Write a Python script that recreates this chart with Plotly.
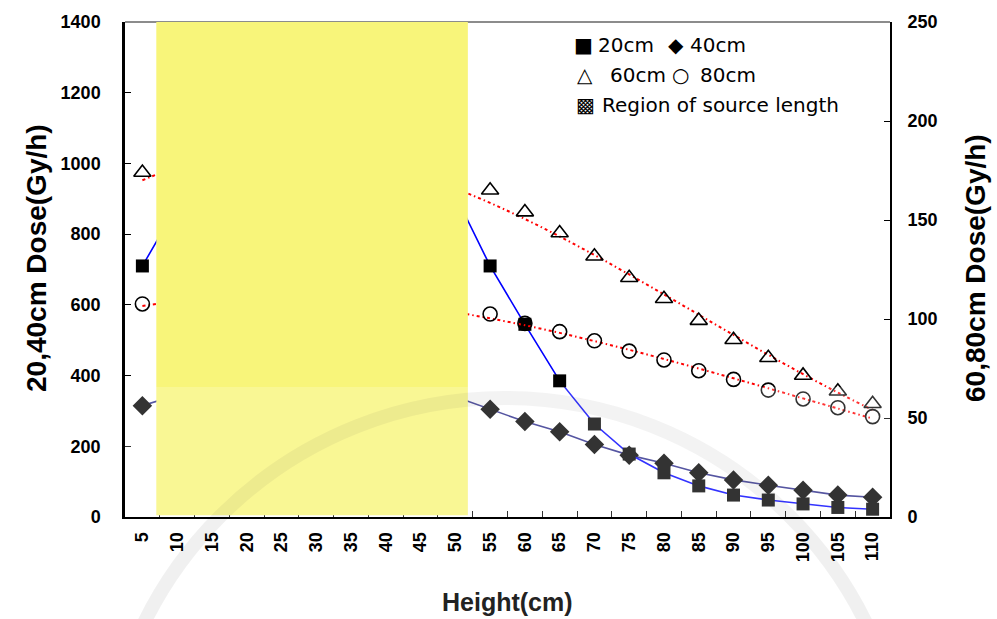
import numpy as np
import plotly.graph_objects as go

# Measurement heights (cm) and dose rates at four distances from the source
heights = [5, 10, 15, 20, 25, 30, 35, 40, 45, 50, 55,
           60, 65, 70, 75, 80, 85, 90, 95, 100, 105, 110]
dose_20cm = [710, 880, 960, 1010, 1040, 1050, 1050, 1040, 1000, 910, 710,
             545, 385, 263, 178, 125, 88, 62, 48, 37, 27, 22]
dose_40cm = [315, 345, 362, 372, 378, 380, 380, 376, 365, 340, 305,
             270, 241, 205, 175, 152, 125, 105, 90, 76, 62, 56]
dose_60cm = [174, 178, 180, 181, 181, 180, 179, 177, 174, 170, 165,
             154, 143.4, 131.7, 120.8, 110.2, 99.2, 89.5, 80.4, 71.5, 63.5, 57.2]
dose_80cm = [107.6, 109.5, 110, 110.5, 110.5, 110, 109, 108, 106.5, 104.5, 102.5,
             97.8, 93.6, 89, 83.8, 79.3, 73.9, 69.5, 64.1, 59.6, 55.2, 50.7]

# Active source length along the height axis (cm)
source_region = (7.0, 51.8)

left_ticks = [0, 200, 400, 600, 800, 1000, 1200, 1400]
right_ticks = [0, 50, 100, 150, 200, 250]

cats = [str(h) for h in heights]
idx = np.arange(len(heights))


def cm_to_index(cm):
    return (cm - heights[0]) / (heights[1] - heights[0])


def trend(values):
    coef = np.polyfit(idx, values, 3)
    return np.polyval(coef, idx)


def px_x(px):
    return (px - 125) / 765


def px_y(py):
    return (517 - py) / 495


FONT = "Liberation Sans, Arial, sans-serif"
LEG_FONT = "DejaVu Sans, sans-serif"

fig = go.Figure()

# polynomial trend lines for the far distances (right axis)
for series in (dose_60cm, dose_80cm):
    fig.add_trace(go.Scatter(x=cats, y=trend(series), yaxis="y2", mode="lines",
                             line=dict(color="#ff0000", width=2, dash="3px,3px,1.5px,3px"),
                             line_shape="spline", hoverinfo="skip"))

fig.add_trace(go.Scatter(x=cats, y=dose_60cm, yaxis="y2", mode="markers",
                         marker=dict(symbol="triangle-up-open", size=15,
                                     color="black", line=dict(width=1.6, color="black"))))
fig.add_trace(go.Scatter(x=cats, y=dose_80cm, yaxis="y2", mode="markers",
                         marker=dict(symbol="circle-open", size=14,
                                     color="black", line=dict(width=1.6, color="black"))))

fig.add_trace(go.Scatter(x=cats, y=dose_40cm, mode="lines+markers",
                         line=dict(color="#2b2b8a", width=1.6),
                         marker=dict(symbol="diamond", size=15, color="black")))
fig.add_trace(go.Scatter(x=cats, y=dose_20cm, mode="lines+markers",
                         line=dict(color="#0000ff", width=1.6),
                         marker=dict(symbol="square", size=13, color="black")))

shapes = [
    # thin grey frame line along the top of the plot
    dict(type="line", xref="paper", yref="paper", x0=0, x1=1, y0=1, y1=1,
         line=dict(color="#8c8c8c", width=2), layer="above"),
    # region of source length
    dict(type="rect", xref="x", yref="y",
         x0=cm_to_index(source_region[0]), x1=cm_to_index(source_region[1]),
         y0=5, y1=1400, fillcolor="#f8f57a", line=dict(width=0), layer="above"),
    # faint seal ring in the background
    dict(type="circle", xref="paper", yref="paper",
         x0=px_x(103), x1=px_x(907), y0=px_y(1202), y1=px_y(398),
         line=dict(color="rgba(0,0,0,0.06)", width=14), layer="above"),
    # light wash over the lower part of the plot
    dict(type="rect", xref="paper", yref="paper", x0=0, x1=1,
         y0=0, y1=px_y(387), fillcolor="rgba(255,255,255,0.2)",
         line=dict(width=0), layer="above"),
]

annotations = [
    dict(text="20,40cm Dose(Gy/h)", xref="paper", yref="paper",
         x=px_x(36), y=px_y(258), xanchor="center", yanchor="middle",
         textangle=-90, showarrow=False,
         font=dict(family=FONT, size=28, color="black", weight="bold")),
    dict(text="60,80cm Dose(Gy/h)", xref="paper", yref="paper",
         x=px_x(975), y=px_y(268), xanchor="center", yanchor="middle",
         textangle=-90, showarrow=False,
         font=dict(family=FONT, size=28, color="black", weight="bold")),
    dict(text="Height(cm)", xref="paper", yref="paper",
         x=px_x(507), y=px_y(602), xanchor="center", yanchor="middle",
         showarrow=False,
         font=dict(family=FONT, size=25, color="#222222", weight="bold")),
]

# legend block
legend_rows = [
    ("\u25a0", 583, 45), ("20cm", 596, 45), ("\u25c6", 676, 45), ("40cm", 688, 45),
    ("\u25b3", 585, 75), ("60cm", 608, 75), ("\u25cb", 680, 75), ("80cm", 698, 75),
    ("\u25a9", 585, 105), ("Region of source length", 600, 105),
]
for txt, px, py in legend_rows:
    is_sym = len(txt) == 1
    annotations.append(dict(
        text=txt, xref="paper", yref="paper", x=px_x(px), y=px_y(py),
        xanchor="center" if is_sym else "left", yanchor="middle", showarrow=False,
        font=dict(family=LEG_FONT, size=20, color="black")))

fig.update_layout(
    width=997, height=619,
    margin=dict(l=125, r=107, t=22, b=102),
    paper_bgcolor="white", plot_bgcolor="white",
    showlegend=False,
    xaxis=dict(type="category", categoryorder="array", categoryarray=cats,
               range=[-0.5, len(cats) - 0.5], tickson="boundaries",
               ticks="inside", ticklen=6, tickwidth=1.2, tickcolor="black",
               showline=True, linecolor="black", linewidth=2,
               showgrid=False, zeroline=False, tickangle=-90,
               ticklabelstandoff=6,
               tickfont=dict(family=FONT, size=18, color="black", weight="bold")),
    yaxis=dict(range=[0, 1400], tickvals=left_ticks, ticks="inside", ticklen=6,
               tickcolor="black", tickwidth=1.2,
               showline=True, linecolor="black", linewidth=2.5,
               showgrid=False, zeroline=False, ticklabelstandoff=18,
               tickfont=dict(family=FONT, size=18, color="black", weight="bold")),
    yaxis2=dict(range=[0, 250], tickvals=right_ticks, overlaying="y", side="right",
                ticks="inside", ticklen=6, tickcolor="black", tickwidth=1.2,
                showline=True, linecolor="black", linewidth=1.6,
                showgrid=False, zeroline=False, ticklabelstandoff=12,
                tickfont=dict(family=FONT, size=18, color="black", weight="bold")),
    shapes=shapes,
    annotations=annotations,
)

fig.write_html("out.html")
